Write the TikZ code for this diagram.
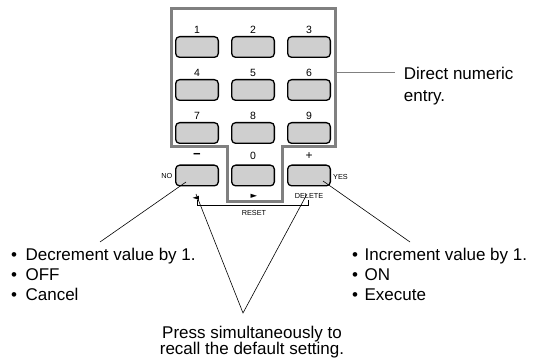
\documentclass[tikz,border=0pt]{standalone}
\usepackage{fontspec}
\setmainfont{Liberation Sans}
\newfontfamily\symfont{DejaVu Sans}
\usetikzlibrary{calc}
\definecolor{keygray}{HTML}{CFCFCF}
\definecolor{framegray}{HTML}{808080}
\begin{document}
\begin{tikzpicture}[x=1pt,y=-1pt,
  key/.style={draw=black, line width=1.3pt, fill=keygray, rounded corners=4pt,
    minimum width=42.7pt, minimum height=20.7pt, inner sep=0pt},
  klabel/.style={font=\fontsize{10.5}{12}\selectfont, inner sep=0pt},
  small/.style={font=\fontsize{7.3}{8}\selectfont, inner sep=0pt},
  big/.style={font=\fontsize{17}{20}\selectfont, inner sep=0pt},
  leader/.style={draw=black, line width=0.6pt},
  frame/.style={draw=framegray, line width=3pt, line join=miter}]
\useasboundingbox (0,0) rectangle (538,363);
% frame
\draw[frame] (171,9) -- (335,9) -- (335,147) -- (282,147) -- (282,202)
  -- (227,202) -- (227,147) -- (171,147) -- cycle;
% numeric keys
\foreach \n/\x/\y in {1/197/47,2/253/47,3/309/47,4/197/90,5/253/90,6/309/90,7/197/133,8/253/133,9/309/133}{
  \node[key] (k\n) at (\x,\y) {};
  \node[klabel] (l\n) at ($(k\n.center)+(0,-17.5)$) {\n};
}
\node[key] (kminus) at (197,175.5) {};
\node[key] (k0) at (253,175.5) {};
\node[key] (kplus) at (309,175.5) {};
\node[inner sep=0pt, font=\bfseries\fontsize{13}{14}\selectfont] (lminus) at ($(kminus.center)+(0,-20)$) {−};
\node[klabel] (l0) at ($(k0.center)+(0,-19.5)$) {0};
\node[inner sep=0pt, font=\fontsize{12}{14}\selectfont] (lplus) at ($(kplus.center)+(0,-19)$) {+};
\node[inner sep=0pt, font=\symfont\fontsize{8.5}{9}\selectfont] (left) at (196,198) {◄};
\node[inner sep=0pt, font=\symfont\fontsize{8.5}{9}\selectfont] (right) at (254,196) {►};
\node[small, anchor=east] (no) at (172.5,176) {NO};
\node[small, anchor=west] (yes) at (333,176.5) {YES};
\node[small] (del) at (309,196) {DELETE};
\node[small] (reset) at (254,213) {RESET};
% bracket
\coordinate (bl) at (197,200);
\coordinate (br) at (308,200);
\draw[line width=0.8pt] (bl) -- ++(0,5) -| (br);
% leader: direct numeric
\coordinate (dstart) at (335,73);
\coordinate (dend) at (395,73);
\draw[draw=framegray, line width=1pt] (dstart) -- (dend);
\node[big, anchor=base west] (d1) at (403.7,80) {Direct numeric};
\node[big, anchor=base west] (d2) at (403.7,102) {entry.};
% left block
\node[big, anchor=base west] (m1) at (10.9,260.7) {\makebox[14.5pt][l]{•}Decrement value by 1.};
\node[big, anchor=base west] (m2) at (10.9,280.7) {\makebox[14.5pt][l]{•}OFF};
\node[big, anchor=base west] (m3) at (10.9,300.7) {\makebox[14.5pt][l]{•}Cancel};
% right block
\node[big, anchor=base west] (p1) at (351.9,260.7) {\makebox[12.5pt][l]{•}Increment value by 1.};
\node[big, anchor=base west] (p2) at (351.9,280.7) {\makebox[12.5pt][l]{•}ON};
\node[big, anchor=base west] (p3) at (351.9,300.7) {\makebox[12.5pt][l]{•}Execute};
% bottom
\node[big, anchor=base] (r1) at (252,338) {Press simultaneously to};
\node[big, anchor=base] (r2) at (252,354) {recall the default setting.};
% leaders
\coordinate (ls) at (186,182);
\coordinate (le) at (100,242);
\draw[leader] (ls) -- (le);
\coordinate (rs) at (323,181);
\coordinate (re) at (410,242);
\draw[leader] (rs) -- (re);
\coordinate (va) at (196,194);
\coordinate (vb) at (307,194);
\coordinate (vv) at (243,313);
\draw[leader] (va) -- (vv) -- (vb);
\end{tikzpicture}
\end{document}
